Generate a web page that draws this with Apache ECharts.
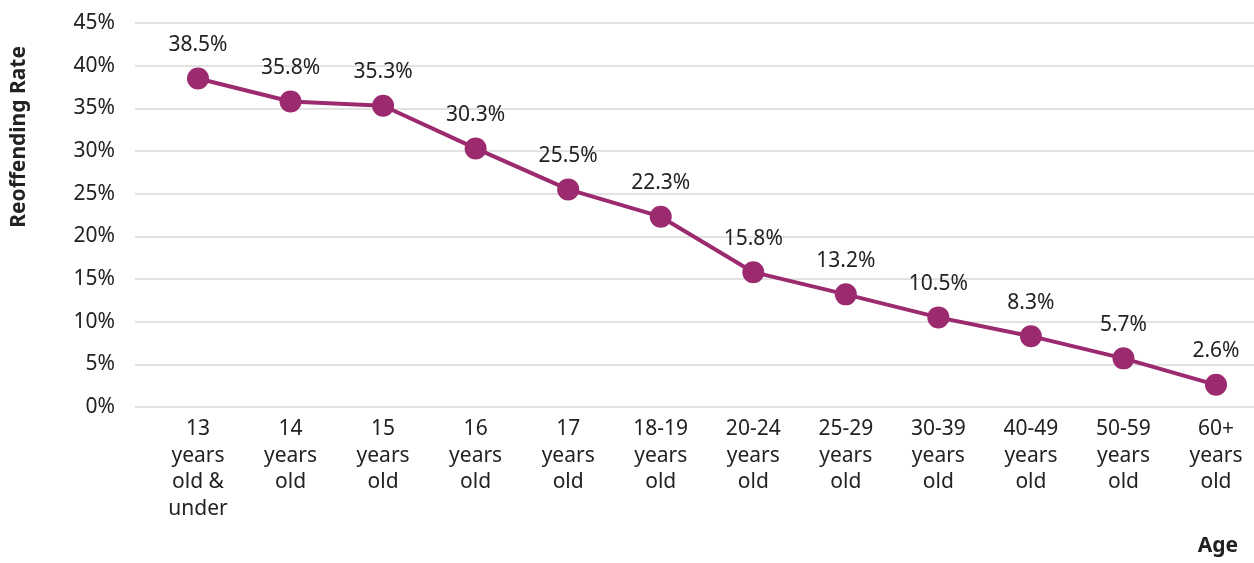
<!DOCTYPE html>
<html><head><meta charset="utf-8">
<script src="https://cdn.jsdelivr.net/npm/echarts@6/dist/echarts.min.js"></script>
<style>html,body{margin:0;padding:0;background:#fff}#c{width:1254px;height:563px}</style>
</head><body><div id="c"></div>
<script>
const categories = ['13\nyears\nold &\nunder','14\nyears\nold','15\nyears\nold','16\nyears\nold','17\nyears\nold','18-19\nyears\nold','20-24\nyears\nold','25-29\nyears\nold','30-39\nyears\nold','40-49\nyears\nold','50-59\nyears\nold','60+\nyears\nold'];
const rates = [38.5, 35.8, 35.3, 30.3, 25.5, 22.3, 15.8, 13.2, 10.5, 8.3, 5.7, 2.6];
const yTicks = {min: 0, max: 45, interval: 5};
const font = "'Noto Sans', sans-serif";
const chart = echarts.init(document.getElementById('c'));
chart.setOption({
  animation: false,
  grid: [
    {left: 135, right: 0, top: 23, bottom: 156},
    {left: 198, right: 38, top: 23, bottom: 156}
  ],
  xAxis: [
    {gridIndex: 0, type: 'category', data: categories, show: false},
    {gridIndex: 1, type: 'category', data: categories, boundaryGap: false,
     axisLine: {show: false}, axisTick: {show: false},
     axisLabel: {color: '#222', fontFamily: font, fontSize: 21, lineHeight: 26.5, margin: 9, interval: 0}}
  ],
  yAxis: [
    {gridIndex: 0, type: 'value', min: yTicks.min, max: yTicks.max, interval: yTicks.interval,
     axisLine: {show: false}, axisTick: {show: false},
     axisLabel: {formatter: '{value}%', color: '#222', fontFamily: font, fontSize: 21, margin: 20},
     splitLine: {lineStyle: {color: '#d9d9d9', width: 1.5}}},
    {gridIndex: 1, type: 'value', min: yTicks.min, max: yTicks.max, interval: yTicks.interval, show: false, splitLine: {show: false}}
  ],
  graphic: [
    {type: 'text', left: 9, top: 46, rotation: Math.PI/2, style: {text: 'Reoffending Rate', font: "bold 21px 'Noto Sans', sans-serif", fill: '#222'}},
    {type: 'text', right: 16, top: 536, style: {text: 'Age', font: "bold 21px 'Noto Sans', sans-serif", fill: '#222'}}
  ],
  series: [{
    type: 'line', xAxisIndex: 1, yAxisIndex: 1, data: rates,
    symbol: 'circle', symbolSize: 22,
    lineStyle: {color: '#9b2a6e', width: 4},
    itemStyle: {color: '#9b2a6e'},
    label: {show: true, position: 'top', distance: 12, formatter: p => p.value.toFixed(1) + '%', color: '#222', fontFamily: font, fontSize: 21}
  }]
});
</script></body></html>
